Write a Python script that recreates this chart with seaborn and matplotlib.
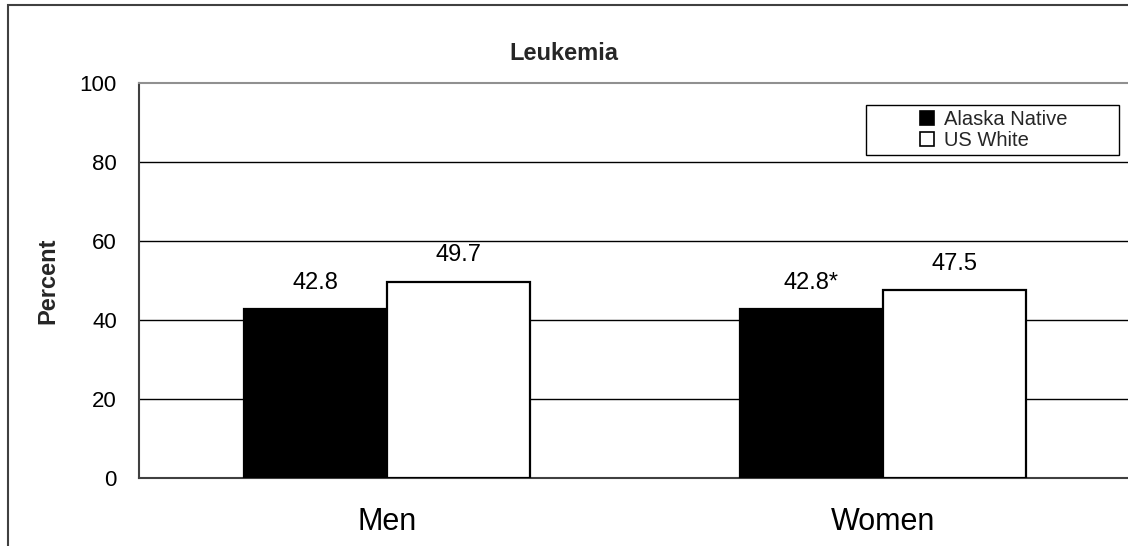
import matplotlib
matplotlib.use("Agg")
import matplotlib.pyplot as plt
import seaborn as sns
import pandas as pd
from matplotlib.patches import Rectangle

# ---- data ----
categories = ["Men", "Women"]
series_names = ["Alaska Native", "US White"]
alaska_native = [42.8, 42.8]
us_white = [49.7, 47.5]
alaska_labels = ["42.8", "42.8*"]
us_white_labels = ["49.7", "47.5"]
y_ticks = [0, 20, 40, 60, 80, 100]
title = "Leukemia"
y_label = "Percent"

df = pd.DataFrame({
    "sex": categories * 2,
    "group": [series_names[0]] * len(categories) + [series_names[1]] * len(categories),
    "value": alaska_native + us_white,
})

sns.set_theme(style="white")
plt.rcParams["font.family"] = ["Liberation Sans", "DejaVu Sans"]

W, H = 1128, 546
fig = plt.figure(figsize=(W / 100, H / 100), dpi=100)
ax_left, ax_right, ax_top, ax_bottom = 139, 1131, 83, 478
ax = fig.add_axes([ax_left / W, 1 - ax_bottom / H, (ax_right - ax_left) / W, (ax_bottom - ax_top) / H])

sns.barplot(data=df, x="sex", y="value", hue="group", order=categories,
            hue_order=series_names, palette=["black", "white"], width=0.577,
            edgecolor="black", linewidth=1.6, saturation=1, ax=ax, zorder=3)

ax.set_ylim(0, 100)
ax.set_xlim(-0.5, 1.5)
ax.set_yticks(y_ticks)
ax.set_yticklabels([str(t) for t in y_ticks], fontsize=16)
ax.tick_params(axis="y", length=0, pad=16, colors="black")
ax.tick_params(axis="x", length=0, pad=21, labelsize=22, colors="black")
ax.set_xlabel("")
ax.set_ylabel("")

for y in y_ticks[1:-1]:
    ax.axhline(y, color="black", linewidth=1.0, zorder=1)

for side in ["left", "bottom"]:
    ax.spines[side].set_color("#404040")
    ax.spines[side].set_linewidth(1.5)
ax.spines["top"].set_color("#909090")
ax.spines["top"].set_linewidth(1.5)
ax.spines["right"].set_visible(False)

for container, labs in zip(ax.containers, [alaska_labels, us_white_labels]):
    ax.bar_label(container, labels=labs, padding=11, fontsize=17, color="black")

# legend
handles, labels = ax.get_legend_handles_labels()
if ax.get_legend() is not None:
    ax.get_legend().remove()
ax_w = ax_right - ax_left
ax_h = ax_bottom - ax_top
leg = ax.legend(handles, labels, loc="center",
                bbox_to_anchor=((994 - ax_left) / ax_w, (ax_bottom - 130) / ax_h),
                frameon=False, fontsize=14.5, handlelength=0.68, handleheight=0.68,
                handletextpad=0.5, labelspacing=0.1, borderpad=0)
for h in leg.legend_handles:
    h.set_edgecolor("black")
    h.set_linewidth(1.2)
ax.add_patch(Rectangle(((866 - ax_left) / ax_w, (ax_bottom - 155) / ax_h),
                       253 / ax_w, 50 / ax_h, transform=ax.transAxes,
                       fill=False, edgecolor="black", linewidth=1.0, zorder=5,
                       clip_on=False))

# title and y label
fig.text(564 / W, 1 - 53 / H, title, ha="center", va="center",
         fontsize=17, fontweight="bold")
fig.text(48 / W, 1 - 281 / H, y_label, ha="center", va="center",
         rotation=90, fontsize=17, fontweight="bold")

# figure border
fig.patches.append(Rectangle((8 / W, -0.05), 1.2, 1 - 5 / H + 0.05,
                             transform=fig.transFigure, fill=False,
                             edgecolor="#404040", linewidth=1.5))

fig.savefig("out.png", dpi=100)
